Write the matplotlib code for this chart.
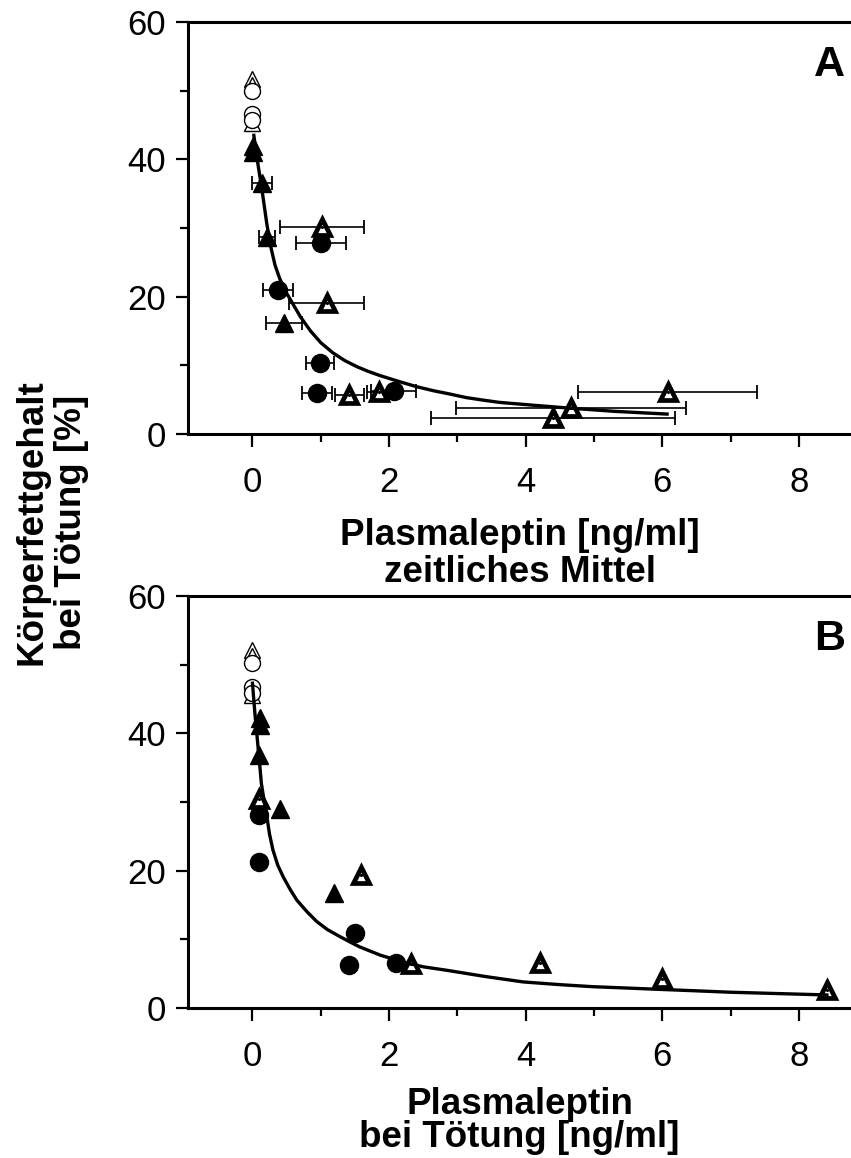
import numpy as np
import matplotlib
matplotlib.use("Agg")

import matplotlib.pyplot as plt

plt.rcParams['font.family'] = ['Liberation Sans', 'DejaVu Sans']

# ---- panel A: zeitliches Mittel (with x error bars)
a_open_tri_y = [51.7, 50.8, 45.3]
a_open_circ_y = [50.0, 46.6, 45.8]

a_tri_x = [0.01, 0.01, 0.14, 0.21, 0.46]
a_tri_y = [42.0, 41.0, 36.5, 28.7, 16.2]
a_tri_xerr = [0.0, 0.0, 0.15, 0.12, 0.26]

a_circ_x = [1.00, 0.37, 0.99, 0.94, 2.07]
a_circ_y = [27.8, 20.9, 10.4, 6.0, 6.3]
a_circ_xerr = [0.37, 0.22, 0.21, 0.22, 0.33]

a_dtri_x = [1.02, 1.09, 1.42, 1.85, 6.08, 4.66, 4.40]
a_dtri_y = [30.2, 19.1, 5.7, 6.1, 6.1, 3.8, 2.3]
a_dtri_xerr = [0.62, 0.55, 0.21, 0.17, 1.31, 1.68, 1.78]

a_fit_x = [0.02, 0.05, 0.08, 0.11, 0.14, 0.17, 0.21, 0.26, 0.33, 0.40, 0.50,
           0.60, 0.70, 0.85, 1.00, 1.18, 1.35, 1.53, 1.70, 1.87, 2.16, 2.40,
           2.65, 2.90, 3.13, 3.40, 3.62, 4.10, 4.60, 5.30, 6.07]
a_fit_y = [43.5, 41.3, 39.3, 37.4, 35.5, 33.4, 30.6, 27.6, 24.6, 22.6, 20.5,
           18.8, 17.1, 15.0, 13.3, 11.8, 10.7, 9.8, 9.1, 8.5, 7.6, 6.9,
           6.3, 5.8, 5.3, 4.9, 4.6, 4.2, 3.8, 3.3, 2.9]

# ---- panel B: bei Tötung
b_open_tri_y = [52.2, 51.2, 45.6]
b_open_circ_y = [50.2, 46.7, 45.9]

b_tri_x = [0.11, 0.11, 0.10, 0.41, 1.20]
b_tri_y = [42.2, 41.2, 36.8, 29.0, 16.7]

b_circ_x = [0.10, 0.10, 1.50, 1.41, 2.10]
b_circ_y = [28.1, 21.2, 10.9, 6.3, 6.5]

b_dtri_x = [0.09, 1.59, 2.32, 4.21, 6.00, 8.41]
b_dtri_y = [30.5, 19.4, 6.4, 6.5, 4.2, 2.6]

b_fit_x = [0.0, 0.02, 0.04, 0.065, 0.085, 0.11, 0.13, 0.17, 0.21, 0.25, 0.30,
           0.37, 0.45, 0.55, 0.65, 0.80, 0.94, 1.10, 1.28, 1.45, 1.57, 1.87,
           2.20, 2.50, 2.84, 3.40, 3.96, 4.50, 4.99, 5.50, 5.99, 6.50, 6.99,
           7.70, 8.41]
b_fit_y = [47.3, 44.8, 42.4, 39.8, 37.6, 35.0, 32.7, 30.2, 27.9, 25.3, 23.0,
           20.8, 19.1, 17.3, 15.7, 14.0, 12.6, 11.4, 10.4, 9.5, 8.9, 7.7,
           6.7, 6.0, 5.5, 4.6, 3.8, 3.4, 3.1, 2.9, 2.7, 2.5, 2.3,
           2.1, 1.9]

W, H = 851, 1158
fig = plt.figure(figsize=(W / 100, H / 100), dpi=100)

L, R = 188, 851
axA = fig.add_axes([L / W, 1 - 434 / H, (R - L) / W, 412 / H])
axB = fig.add_axes([L / W, 1 - 1008 / H, (R - L) / W, 412 / H])

eb = dict(fmt="none", ecolor="black", elinewidth=1.2, capsize=4.8, capthick=1.3, zorder=2)


def open_marks(ax, tri_y, circ_y):
    ax.plot(np.zeros(len(tri_y)), tri_y, "^", ms=12, mfc="white", mec="black", mew=1.0, zorder=3)
    ax.plot(np.zeros(len(circ_y)), circ_y, "o", ms=11.5, mfc="white", mec="black", mew=1.0, zorder=3)


def dot_tri(ax, x, y):
    ax.plot(x, y, "^", ms=11, mfc="white", mec="black", mew=3.4, zorder=4)
    ax.plot(x, y, ".", ms=2.5, color="black", zorder=5)


# panel A
open_marks(axA, a_open_tri_y, a_open_circ_y)
axA.errorbar(a_tri_x, a_tri_y, xerr=a_tri_xerr, **eb)
axA.errorbar(a_circ_x, a_circ_y, xerr=a_circ_xerr, **eb)
axA.errorbar(a_dtri_x, a_dtri_y, xerr=a_dtri_xerr, **eb)
axA.plot(a_tri_x, a_tri_y, "^", ms=12.5, color="black", zorder=4)
axA.plot(a_circ_x, a_circ_y, "o", ms=13, color="black", zorder=4)
dot_tri(axA, a_dtri_x, a_dtri_y)
axA.plot(a_fit_x, a_fit_y, "-", color="black", lw=2.4, zorder=6)

# panel B
open_marks(axB, b_open_tri_y, b_open_circ_y)
axB.plot(b_tri_x, b_tri_y, "^", ms=12.5, color="black", zorder=4)
axB.plot(b_circ_x, b_circ_y, "o", ms=13, color="black", zorder=4)
dot_tri(axB, b_dtri_x, b_dtri_y)
axB.plot(b_fit_x, b_fit_y, "-", color="black", lw=2.4, zorder=6)

for ax, tag in [(axA, "A"), (axB, "B")]:
    ax.set_xlim(-0.944, 8.763)
    ax.set_ylim(0, 60)
    ax.set_xticks([0, 2, 4, 6, 8])
    ax.set_xticks([1, 3, 5, 7], minor=True)
    ax.set_yticks([0, 20, 40, 60])
    ax.set_yticks([10, 30, 50], minor=True)
    ax.spines["right"].set_visible(False)
    for s in ["left", "bottom", "top"]:
        ax.spines[s].set_linewidth(2.2)
    ax.tick_params(which="major", direction="out", length=9, width=1.6, labelsize=25)
    ax.tick_params(which="minor", direction="out", length=6, width=1.6)
    ax.tick_params(axis="x", which="major", pad=14)
    ax.tick_params(axis="y", which="major", pad=7)
    ax.text(0.991, 0.896, tag, transform=ax.transAxes, ha="right", va="center",
            fontsize=31, fontweight="bold")

axA.set_xlabel("Plasmaleptin [ng/ml]\nzeitliches Mittel", fontsize=26.5, fontweight="bold",
               linespacing=1.05, labelpad=14)
axB.set_xlabel("Plasmaleptin\nbei Tötung [ng/ml]", fontsize=26.5, fontweight="bold",
               linespacing=0.95, labelpad=10)

fig.text(52 / W, 1 - 522 / H, "Körperfettgehalt\nbei Tötung [%]", rotation=90,
         ha="center", va="center", fontsize=26.5, fontweight="bold", linespacing=1.15)

fig.savefig("out.png", dpi=100)
